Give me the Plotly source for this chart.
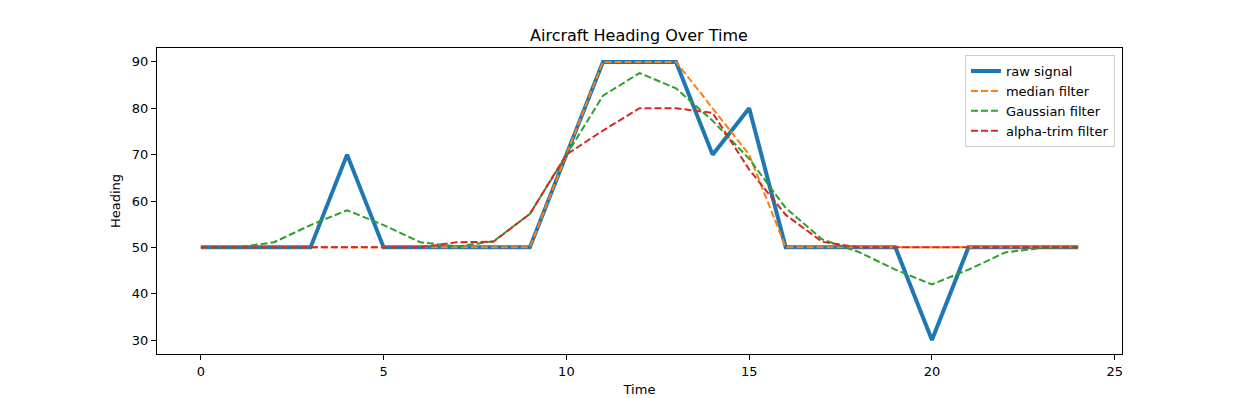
import plotly.graph_objects as go

time = list(range(25))
raw_signal = [50, 50, 50, 50, 70, 50, 50, 50, 50, 50, 70, 90, 90, 90, 70, 80,
              50, 50, 50, 50, 30, 50, 50, 50, 50]
median_filter = [50, 50, 50, 50, 50, 50, 50, 50, 50, 50, 70, 90, 90, 90, 80, 70,
                 50, 50, 50, 50, 50, 50, 50, 50, 50]
gaussian_filter = [50, 50, 51.1, 54.8, 58.0, 54.8, 51.1, 50.2, 51.3, 57.2, 69.9, 82.7,
                   87.6, 84.3, 77.3, 69.1, 58.5, 51.7, 49.0, 45.2, 42.0, 45.2, 48.9, 49.9, 50]
alpha_trim_filter = [50, 50, 50, 50, 50, 50, 50, 51.1, 51.2, 57.2, 70.0, 75.2, 80, 80,
                     79.0, 66.8, 57.0, 51.2, 50, 50, 50, 50, 50, 50, 50]

x_ticks = [0, 5, 10, 15, 20, 25]
y_ticks = [30, 40, 50, 60, 70, 80, 90]

font = "DejaVu Sans"
fig = go.Figure()
fig.add_trace(go.Scatter(x=time, y=raw_signal, mode="lines", name="raw signal",
                         line=dict(color="#1f77b4", width=4)))
fig.add_trace(go.Scatter(x=time, y=median_filter, mode="lines", name="median filter",
                         line=dict(color="#ff7f0e", width=2, dash="7px,3px")))
fig.add_trace(go.Scatter(x=time, y=gaussian_filter, mode="lines", name="Gaussian filter",
                         line=dict(color="#2ca02c", width=2, dash="7px,3px")))
fig.add_trace(go.Scatter(x=time, y=alpha_trim_filter, mode="lines", name="alpha-trim filter",
                         line=dict(color="#d62728", width=2, dash="7px,3px")))

axis_common = dict(showline=True, linecolor="black", linewidth=1, mirror=True,
                   ticks="outside", ticklen=5, tickcolor="black", tickwidth=1,
                   showgrid=False, zeroline=False, automargin=False,
                   tickfont=dict(family=font, size=13, color="black"))

fig.update_layout(
    width=1247, height=398,
    margin=dict(l=149, r=133, t=40, b=52),
    paper_bgcolor="white", plot_bgcolor="white",
    font=dict(family=font, size=13, color="black"),
    title=dict(text="Aircraft Heading Over Time", x=0.506, xanchor="center",
               y=0.932, yanchor="middle", font=dict(family=font, size=16, color="black")),
    xaxis=dict(range=[-1.2, 25.2], tickvals=x_ticks,
               title=dict(text="Time", standoff=7, font=dict(family=font, size=13)),
               **axis_common),
    yaxis=dict(range=[27, 93], tickvals=y_ticks,
               title=dict(text="Heading", standoff=8, font=dict(family=font, size=13)),
               **axis_common),
    legend=dict(x=0.9927, y=0.977, xanchor="right", yanchor="top",
                bgcolor="rgba(255,255,255,0.8)", bordercolor="#cccccc", borderwidth=1,
                font=dict(family=font, size=13, color="black"),
                itemwidth=30, tracegroupgap=0),
    showlegend=True,
)

fig.write_html("out.html")
